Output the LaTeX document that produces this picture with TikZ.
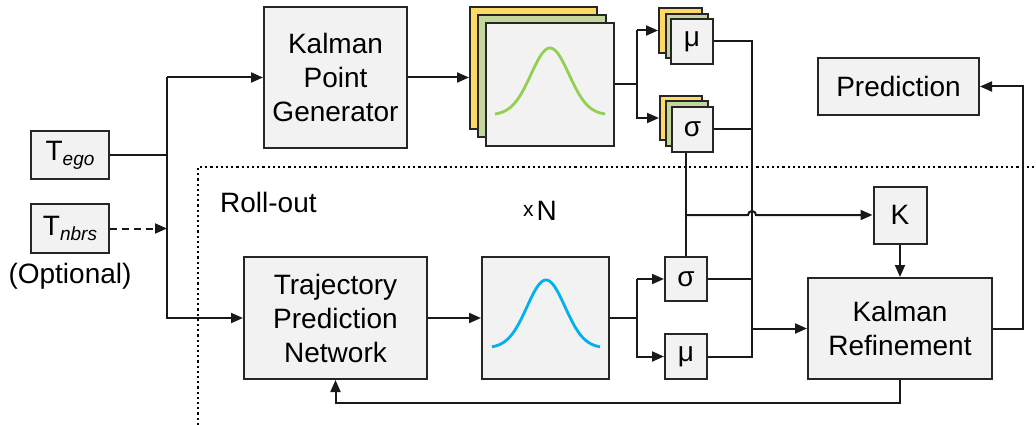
\documentclass[tikz,border=0pt]{standalone}
\usepackage{fontspec}
\setmainfont{Liberation Sans}
\usetikzlibrary{arrows.meta}
\definecolor{boxgray}{HTML}{F2F2F2}
\definecolor{stackyellow}{HTML}{FFD966}
\definecolor{stackgreen}{HTML}{C3D69B}
\definecolor{curvegreen}{HTML}{92D050}
\definecolor{curveblue}{HTML}{00B0F0}
\tikzset{
  blk/.style={draw=black!85, fill=boxgray, line width=2pt, inner sep=0pt, align=center, font=\fontsize{28}{34}\selectfont},
  txt/.style={inner sep=0pt, font=\fontsize{28}{34}\selectfont},
  wire/.style={draw=black!90, line width=2pt},
  arr/.style={-{Triangle[length=12pt,width=10pt]}},
}
\newcommand{\subtxt}[1]{{\fontsize{19}{19}\selectfont\raisebox{-5pt}{\itshape #1}}}
\begin{document}
\begin{tikzpicture}[x=1pt, y=-1pt]
    \useasboundingbox (0,0) rectangle (1036,425);
    % roll-out region
    \draw[line width=2.5pt, dash pattern=on 2.2pt off 3pt] (198,425) -- (198,167) -- (1036,167);
    \node[txt, anchor=west] (roll) at (220,202) {Roll-out};
    \node[txt] (rep) at (540,211) {\raisebox{4pt}{\fontsize{21}{21}\selectfont x}\hspace{3pt}N};
    % inputs
    \node[blk, minimum width=78pt, minimum height=48pt] (ego) at (70,155) {T\subtxt{ego}};
    \node[blk, minimum width=78pt, minimum height=49pt] (nbrs) at (70,228.5) {T\subtxt{nbrs}};
    \node[txt] (opt) at (70,276) {(Optional)};
    \coordinate (inbus) at (167,0);
    % kalman point generator and its stacked outputs
    \node[blk, minimum width=143pt, minimum height=141pt] (kpg) at (335.5,77.5) {Kalman\\Point\\Generator};
    \node[blk, fill=stackyellow, minimum width=127pt, minimum height=122pt] (genY) at (533.5,68) {};
    \node[blk, fill=stackgreen, minimum width=128pt, minimum height=122pt] (genG) at (542,76) {};
    \node[blk, minimum width=128pt, minimum height=123pt] (gen) at (550,84.5) {};
    \draw[curvegreen, line width=2.8pt] plot[domain=-55:55, samples=80, smooth] ({550+\x}, {115-67*exp(-0.5*(\x/19)*(\x/19))});
    \node[blk, fill=stackyellow, minimum width=43pt, minimum height=45pt] (muTY) at (680.5,30.5) {};
    \node[blk, fill=stackgreen, minimum width=42pt, minimum height=44pt] (muTG) at (686.5,36) {};
    \node[blk, minimum width=42pt, minimum height=45pt] (muT) at (692,41.5) {μ};
    \node[blk, fill=stackyellow, minimum width=42pt, minimum height=44pt] (sigTY) at (681,118) {};
    \node[blk, fill=stackgreen, minimum width=42pt, minimum height=45pt] (sigTG) at (687,123.5) {};
    \node[blk, minimum width=41pt, minimum height=45pt] (sigT) at (692.5,129.5) {σ};
    \node[blk, minimum width=161pt, minimum height=57pt] (pred) at (898.5,86.5) {Prediction};
    % roll-out blocks
    \node[blk, minimum width=183pt, minimum height=122pt] (tpn) at (335.5,318) {Trajectory\\Prediction\\Network};
    \node[blk, minimum width=127pt, minimum height=122pt] (gaus) at (545.5,318) {};
    \draw[curveblue, line width=2.8pt] plot[domain=-54:54, samples=80, smooth] ({546+\x}, {348-68*exp(-0.5*(\x/19)*(\x/19))});
    \node[blk, minimum width=42pt, minimum height=44pt] (sigB) at (686,279) {σ};
    \node[blk, minimum width=42pt, minimum height=45pt] (muB) at (686,356.5) {μ};
    \node[blk, minimum width=53pt, minimum height=57pt] (K) at (900,215) {K};
    \node[blk, minimum width=184pt, minimum height=101pt] (KR) at (900,328.5) {Kalman\\Refinement};
    \coordinate (genbus) at (637,0);
    \coordinate (bus) at (752,0);
    \coordinate (outbus) at (1023,0);
    % input connectors
    \draw[wire] (ego.east) -- (ego.east -| inbus);
    \draw[wire, arr, dash pattern=on 7pt off 5pt] (nbrs.east) -- (nbrs.east -| inbus);
    \draw[wire, arr] (inbus |- kpg.west) -- (kpg.west);
    \draw[wire, arr] (inbus |- kpg.west) -- (inbus |- tpn.west) -- (tpn.west);
    % generator branch
    \draw[wire, arr] (kpg.east) -- (kpg.east -| genY.west);
    \draw[wire] (gen.east) -- (gen.east -| genbus);
    \draw[wire, arr] (genbus |- muTY.west) -- (muTY.west);
    \draw[wire, arr] (genbus |- muTY.west) -- (genbus |- sigTY.west) -- (sigTY.west);
    % roll-out branch
    \draw[wire, arr] (tpn.east) -- (gaus.west);
    \draw[wire] (gaus.east) -- (gaus.east -| genbus);
    \draw[wire, arr] (genbus |- sigB.west) -- (sigB.west);
    \draw[wire, arr] (genbus |- sigB.west) -- (genbus |- muB.west) -- (muB.west);
    % merging into kalman refinement
    \draw[wire] (muT.east) -- (muT.east -| bus) -- (muB.east -| bus) -- (muB.east);
    \draw[wire] (sigT.east) -- (sigT.east -| bus);
    \draw[wire] (sigB.east) -- (sigB.east -| bus);
    \draw[wire, arr] (KR.west -| bus) -- (KR.west);
    \draw[wire] (sigB.north |- sigT.south) -- (sigB.north);
    \draw[wire, arr] (sigB.north |- K.west) -- ([xshift=-4pt]bus |- K.west) arc[start angle=180, end angle=0, radius=4pt] -- (K.west);
    \draw[wire, arr] (K.south) -- (KR.north);
    % outputs
    \draw[wire, arr] (KR.east) -- (KR.east -| outbus) -- (outbus |- pred.east) -- (pred.east);
    \draw[wire, arr] (KR.south) -- ++(0,22.5) -| (tpn.south);
\end{tikzpicture}
\end{document}
